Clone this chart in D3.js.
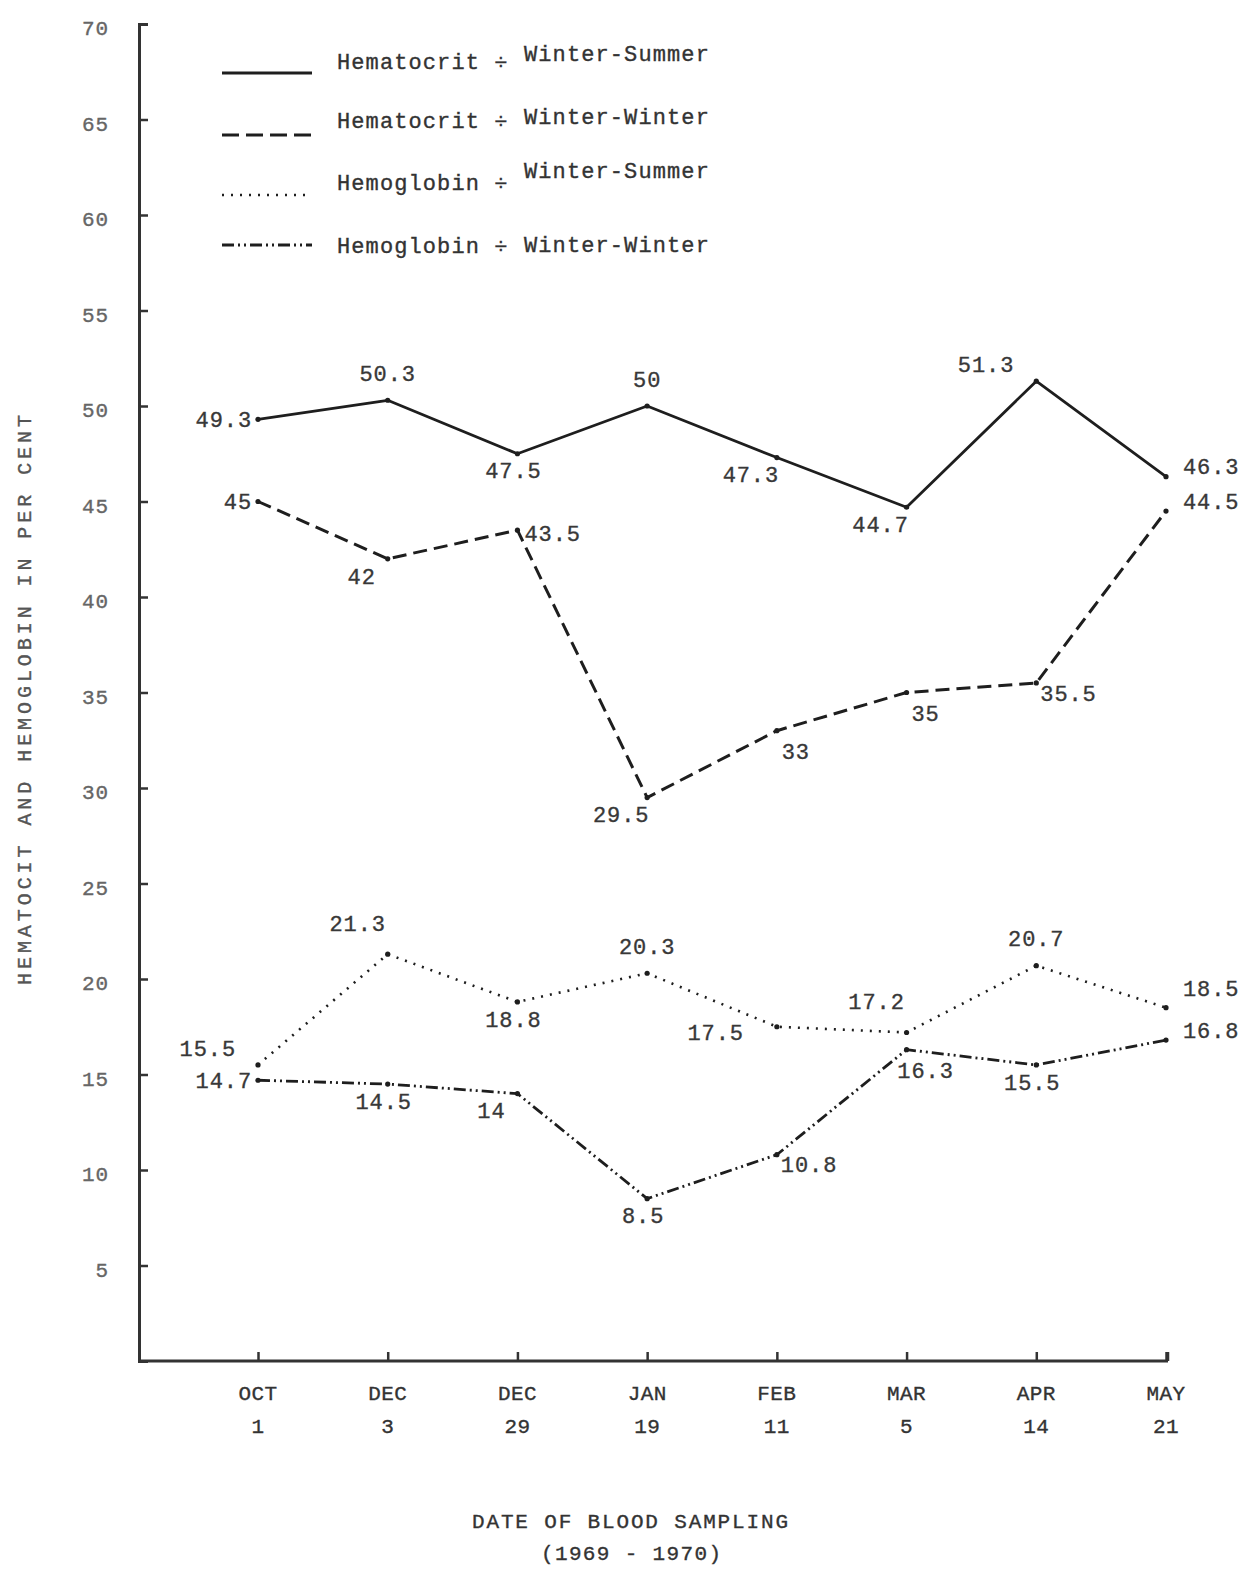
<!DOCTYPE html>
<html>
<head>
<meta charset="utf-8">
<script src="https://cdn.jsdelivr.net/npm/d3@7"></script>
<style>
  html, body { margin: 0; padding: 0; background: #ffffff; }
  svg { display: block; }
  text { font-family: "Liberation Mono", "DejaVu Sans Mono", monospace; }
</style>
</head>
<body>
<svg id="chart" width="1243" height="1572"></svg>
<script>
// ---------------- data ----------------
const months = ["OCT", "DEC", "DEC", "JAN", "FEB", "MAR", "APR", "MAY"];
const days   = ["1", "3", "29", "19", "11", "5", "14", "21"];
const categories = months.map((m, i) => m + " " + days[i]);

const hematocritWinterSummer  = [49.3, 50.3, 47.5, 50, 47.3, 44.7, 51.3, 46.3];
const hematocritWinterWinter  = [45, 42, 43.5, 29.5, 33, 35, 35.5, 44.5];
const hemoglobinWinterSummer  = [15.5, 21.3, 18.8, 20.3, 17.5, 17.2, 20.7, 18.5];
const hemoglobinWinterWinter  = [14.7, 14.5, 14, 8.5, 10.8, 16.3, 15.5, 16.8];

// where each value label sits relative to its point (compass-like codes)
const labelSideHWS = ["L", "A", "B", "A", "BL", "BL", "LU", "RU"];
const labelSideHWW = ["L", "BL", "R", "BL", "BR", "BR", "RD", "RU"];
const labelSideGWS = ["LU", "AL", "B", "A", "L2", "AL", "A", "RU2"];
const labelSideGWW = ["L", "B", "BL", "B", "RD", "BR", "B", "RU"];

const yTicks = [5, 10, 15, 20, 25, 30, 35, 40, 45, 50, 55, 60, 65, 70];

const legendMain = ["Hematocrit \u00F7", "Hematocrit \u00F7", "Hemoglobin \u00F7", "Hemoglobin \u00F7"];
const legendSub  = ["Winter-Summer", "Winter-Winter", "Winter-Summer", "Winter-Winter"];

const yTitle = "HEMATOCIT AND HEMOGLOBIN IN PER CENT";
const xTitle1 = "DATE OF BLOOD SAMPLING";
const xTitle2 = "(1969 - 1970)";

// ---------------- styles ----------------
const ink = "#1e1e1e";
const lineStyles = [
  { dash: null, width: 2.8 },
  { dash: "14 7", width: 3 },
  { dash: "2 7", width: 2.6 },
  { dash: "12 4 2 4 2 4", width: 2.8 }
];
const labelOffsets = {
  A:   { anchor: "middle", dx: 0,   dy: -27 },
  B:   { anchor: "middle", dx: -4,  dy: 17 },
  AL:  { anchor: "middle", dx: -30, dy: -31 },
  BL:  { anchor: "middle", dx: -26, dy: 17 },
  BR:  { anchor: "middle", dx: 19,  dy: 21 },
  L:   { anchor: "end",    dx: -6,  dy: 0 },
  L2:  { anchor: "end",    dx: -33, dy: 6 },
  LU:  { anchor: "end",    dx: -22, dy: -17 },
  R:   { anchor: "start",  dx: 7,   dy: 3 },
  RD:  { anchor: "start",  dx: 4,   dy: 10 },
  RU:  { anchor: "start",  dx: 17,  dy: -10 },
  RU2: { anchor: "start",  dx: 17,  dy: -19 }
};
const textFont = { size: 22, spacing: 0.9, fill: "#383838" };

// ---------------- scales ----------------
const svg = d3.select("#chart");
const axisX = 139;
const x = d3.scalePoint().domain(categories).range([258, 1166]);
const y = d3.scaleLinear().domain([0, 70]).range([1361, 24]);

function typewriter(sel, size, spacing, fill) {
  return sel.attr("font-size", size)
    .attr("letter-spacing", spacing)
    .attr("fill", fill)
    .attr("stroke", fill)
    .attr("stroke-width", 0.35);
}

// ---------------- axes ----------------
const yAxis = d3.axisLeft(y)
  .tickValues(yTicks)
  .tickSizeInner(-9)
  .tickSizeOuter(-9)
  .tickPadding(30)
  .tickFormat(d3.format("d"));
const gy = svg.append("g").attr("transform", `translate(${axisX},0)`).call(yAxis);
gy.select(".domain").attr("stroke", "#333").attr("stroke-width", 3).attr("fill", "none");
gy.selectAll(".tick line").attr("stroke", "#333").attr("stroke-width", 2.5);
typewriter(gy.selectAll(".tick text"), 21, 0.9, "#666")
  .attr("dy", "0.5em")
  .attr("font-family", "Liberation Mono");

const xAxis = d3.axisBottom(x).tickSizeInner(-9).tickSizeOuter(0).tickFormat("");
const gx = svg.append("g").attr("transform", `translate(0,${y(0)})`).call(xAxis);
gx.select(".domain").remove();
gx.selectAll(".tick line").attr("stroke", "#333").attr("stroke-width", 2.5);
gx.append("line")
  .attr("x1", axisX).attr("x2", x.range()[1] + 2)
  .attr("y1", 0).attr("y2", 0)
  .attr("stroke", "#333").attr("stroke-width", 3);
gx.append("line")
  .attr("x1", x.range()[1] + 2).attr("x2", x.range()[1] + 2)
  .attr("y1", 0).attr("y2", -9)
  .attr("stroke", "#333").attr("stroke-width", 2.5);

// x tick labels (two lines)
const xl = svg.append("g");
typewriter(xl.selectAll("text.month").data(categories).join("text")
  .attr("class", "month")
  .attr("x", d => x(d)).attr("y", 1400)
  .attr("text-anchor", "middle")
  .text((d, i) => months[i]), 21, 0.4, "#333");
typewriter(xl.selectAll("text.day").data(categories).join("text")
  .attr("class", "day")
  .attr("x", d => x(d)).attr("y", 1433)
  .attr("text-anchor", "middle")
  .text((d, i) => days[i]), 21, 0.4, "#333");

// axis titles
typewriter(svg.append("text")
  .attr("transform", "translate(31,700) rotate(-90)")
  .attr("text-anchor", "middle")
  .attr("textLength", 570).attr("lengthAdjust", "spacing")
  .text(yTitle), 20, 0, "#555");
typewriter(svg.append("text")
  .attr("x", 630).attr("y", 1528)
  .attr("text-anchor", "middle")
  .attr("textLength", 316).attr("lengthAdjust", "spacing")
  .text(xTitle1), 21, 0, "#333");
typewriter(svg.append("text")
  .attr("x", 631).attr("y", 1560)
  .attr("text-anchor", "middle")
  .attr("textLength", 180).attr("lengthAdjust", "spacing")
  .text(xTitle2), 21, 0, "#333");

// ---------------- series ----------------
const series = [
  { values: hematocritWinterSummer, sides: labelSideHWS, style: lineStyles[0] },
  { values: hematocritWinterWinter, sides: labelSideHWW, style: lineStyles[1] },
  { values: hemoglobinWinterSummer, sides: labelSideGWS, style: lineStyles[2] },
  { values: hemoglobinWinterWinter, sides: labelSideGWW, style: lineStyles[3] }
];

const line = d3.line()
  .x((d, i) => x(categories[i]))
  .y(d => y(d));

const gs = svg.append("g");
series.forEach(s => {
  gs.append("path")
    .datum(s.values)
    .attr("d", line)
    .attr("fill", "none")
    .attr("stroke", ink)
    .attr("stroke-width", s.style.width)
    .attr("stroke-dasharray", s.style.dash)
    .attr("stroke-linejoin", "round");
  gs.selectAll(null).data(s.values).join("circle")
    .attr("cx", (d, i) => x(categories[i]))
    .attr("cy", d => y(d))
    .attr("r", 2.6)
    .attr("fill", ink);
  typewriter(gs.selectAll(null).data(s.values).join("text")
    .attr("x", (d, i) => x(categories[i]) + labelOffsets[s.sides[i]].dx)
    .attr("y", (d, i) => y(d) + labelOffsets[s.sides[i]].dy)
    .attr("dy", "0.35em")
    .attr("text-anchor", (d, i) => labelOffsets[s.sides[i]].anchor)
    .text(d => String(d)), textFont.size, textFont.spacing, textFont.fill);
});

// ---------------- legend ----------------
const legendRows = [
  { lineY: 73,  mainY: 61,  subY: 53 },
  { lineY: 135, mainY: 120, subY: 116 },
  { lineY: 195, mainY: 182, subY: 170 },
  { lineY: 245, mainY: 245, subY: 244 }
];
const lg = svg.append("g");
legendRows.forEach((r, i) => {
  lg.append("line")
    .attr("x1", 222).attr("x2", 312)
    .attr("y1", r.lineY).attr("y2", r.lineY)
    .attr("stroke", ink)
    .attr("stroke-width", lineStyles[i].width)
    .attr("stroke-dasharray", i === 1 ? "17 7" : lineStyles[i].dash);
  typewriter(lg.append("text")
    .attr("x", 337).attr("y", r.mainY)
    .attr("dy", "0.35em")
    .text(legendMain[i]), 22, 1.1, "#333");
  typewriter(lg.append("text")
    .attr("x", 524).attr("y", r.subY)
    .attr("dy", "0.35em")
    .text(legendSub[i]), 22, 1.1, "#333");
});
</script>
</body>
</html>
